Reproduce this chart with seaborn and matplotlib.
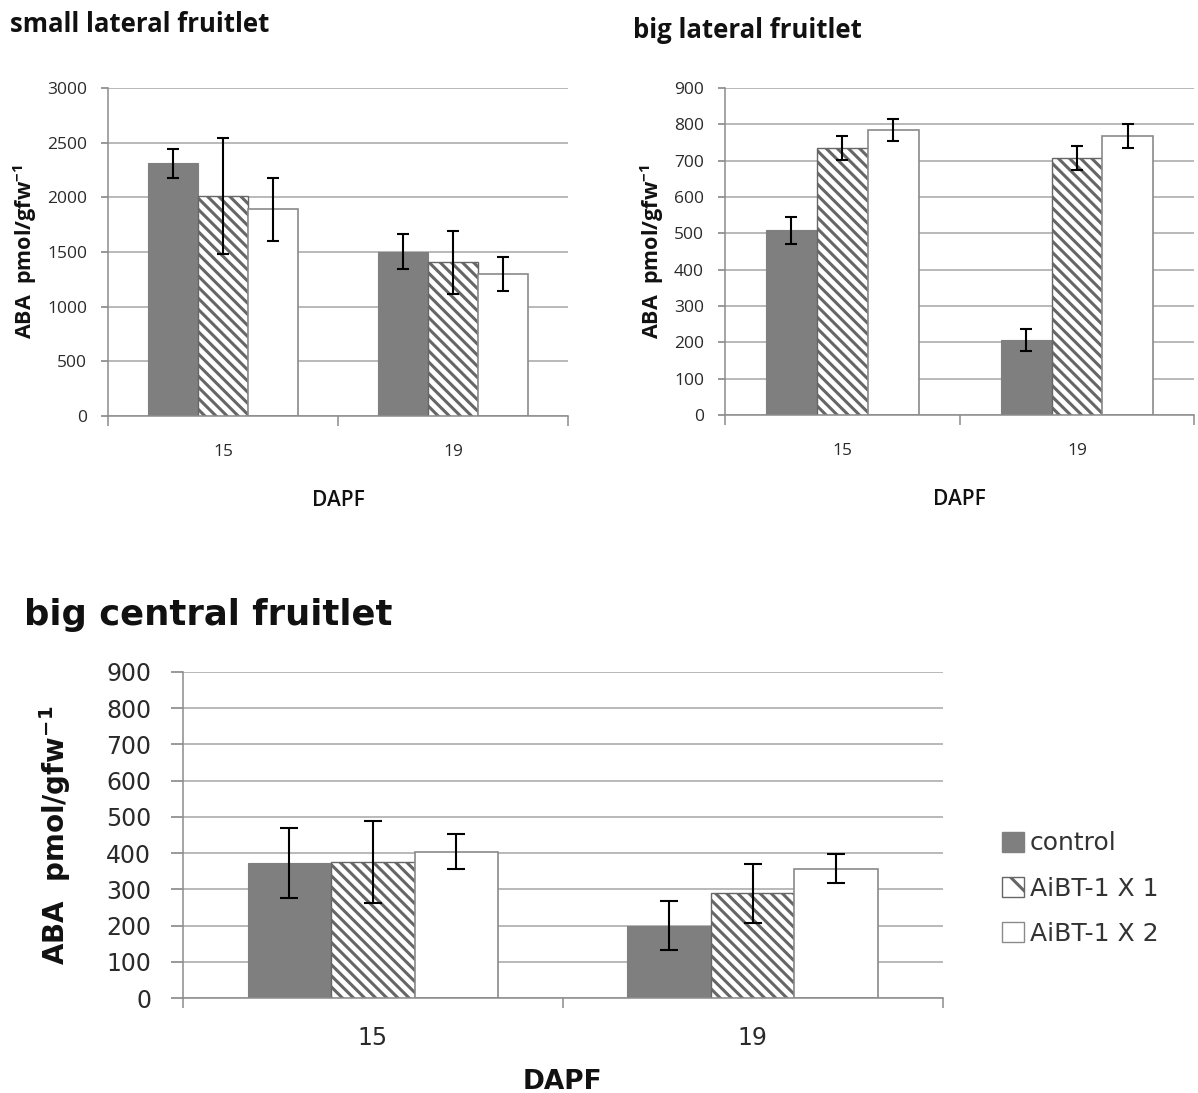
import matplotlib
matplotlib.use("Agg")
import matplotlib.pyplot as plt
import matplotlib.patches as mpatches
import numpy as np
import pandas as pd
import seaborn as sns

# ABA content (pmol/gfw-1) at 15 and 19 days after full bloom
days = ["15", "19"]
treatments = ["control", "AiBT-1 X 1", "AiBT-1 X 2"]

small_lateral_mean = {"control": [2310, 1500], "AiBT-1 X 1": [2015, 1405], "AiBT-1 X 2": [1890, 1300]}
small_lateral_err = {"control": [130, 160], "AiBT-1 X 1": [530, 290], "AiBT-1 X 2": [290, 155]}

big_lateral_mean = {"control": [508, 206], "AiBT-1 X 1": [735, 708], "AiBT-1 X 2": [785, 768]}
big_lateral_err = {"control": [36, 30], "AiBT-1 X 1": [33, 33], "AiBT-1 X 2": [31, 33]}

big_central_mean = {"control": [372, 200], "AiBT-1 X 1": [376, 289], "AiBT-1 X 2": [404, 357]}
big_central_err = {"control": [97, 68], "AiBT-1 X 1": [113, 82], "AiBT-1 X 2": [49, 40]}

sns.set_theme(style="white")
plt.rcParams["hatch.linewidth"] = 2.2

BAR_GRAY = "#7f7f7f"
EDGE_GRAY = "#8a8a8a"
HATCH_GRAY = "#666666"
GRID_GRAY = "#a6a6a6"
TOP_FONT = ["Open Sans", "DejaVu Sans"]
BOTTOM_FONT = ["DejaVu Sans"]


def long_table(means):
    rows = []
    for t in treatments:
        for d, v in zip(days, means[t]):
            rows.append({"DAPF": d, "treatment": t, "ABA": v})
    return pd.DataFrame(rows)


def draw_panel(ax, means, errs, ymax, ystep, font, tick_size, xlab_size, xlab_weight,
               ylab_font, ylab_size, ylab_pad, width, capsize, hatch_density,
               ytick_len, ytick_pad, xtick_pad, xlab_pad):
    df = long_table(means)
    sns.barplot(data=df, x="DAPF", y="ABA", hue="treatment", order=days,
                hue_order=treatments, ax=ax, width=width, errorbar=None,
                legend=False, saturation=1,
                palette={"control": BAR_GRAY, "AiBT-1 X 1": "white", "AiBT-1 X 2": "white"})
    for t, cont in zip(treatments, ax.containers):
        for bar, e in zip(cont, errs[t]):
            if t == "control":
                bar.set_edgecolor(BAR_GRAY)
                bar.set_linewidth(0.8)
            elif t == "AiBT-1 X 1":
                bar.set_facecolor("white")
                bar.set_hatch("\\" * hatch_density)
                bar.set_edgecolor(HATCH_GRAY)
                bar.set_linewidth(1.0)
            else:
                bar.set_facecolor("white")
                bar.set_edgecolor(EDGE_GRAY)
                bar.set_linewidth(1.2)
            xc = bar.get_x() + bar.get_width() / 2
            ax.errorbar(xc, bar.get_height(), yerr=e, fmt="none", ecolor="black",
                        elinewidth=1.5, capsize=capsize, capthick=1.5, zorder=5)
    ax.set_ylim(0, ymax)
    ax.set_xlim(-0.5, 1.5)
    ax.set_yticks(np.arange(0, ymax + 1, ystep))
    ax.yaxis.grid(True, color=GRID_GRAY, linewidth=1.1)
    ax.set_axisbelow(True)
    for s in ["top", "right"]:
        ax.spines[s].set_visible(False)
    for s in ["left", "bottom"]:
        ax.spines[s].set_color("#8c8c8c")
        ax.spines[s].set_linewidth(1.1)
    ax.tick_params(axis="y", which="major", left=True, length=ytick_len, color="#8c8c8c",
                   labelsize=tick_size, labelcolor="#2a2a2a", pad=ytick_pad)
    ax.set_xticks([0, 1])
    ax.set_xticklabels(days)
    ax.tick_params(axis="x", which="major", length=0, labelsize=tick_size,
                   labelcolor="#2a2a2a", pad=xtick_pad)
    ax.set_xticks([-0.5, 0.5, 1.5], minor=True)
    ax.tick_params(axis="x", which="minor", bottom=True, length=7, color="#8c8c8c", width=1.1)
    for lab in ax.get_xticklabels() + ax.get_yticklabels():
        lab.set_family(font)
    ax.set_xlabel("DAPF", fontsize=xlab_size, family=font, fontweight=xlab_weight,
                  color="#111111", labelpad=xlab_pad)
    ax.set_ylabel("ABA  pmol/gfw$^{\\mathregular{-1}}$", fontsize=ylab_size,
                  family=ylab_font, fontweight="bold", color="#111111", labelpad=ylab_pad)


fig = plt.figure(figsize=(11.98, 10.93), dpi=100)

ax1 = fig.add_axes([0.0902, 0.6194, 0.384, 0.3001])
draw_panel(ax1, small_lateral_mean, small_lateral_err, 3000, 500, TOP_FONT, 12.5, 15, "semibold",
           TOP_FONT, 15.5, 6, 0.65, 4.5, 3, 5, 10, 20, 22)
fig.text(0.008, 0.978, "small lateral fruitlet", fontsize=18.5, fontweight="bold",
         family=TOP_FONT, color="#111111", va="center")

ax2 = fig.add_axes([0.605, 0.6203, 0.392, 0.2992])
draw_panel(ax2, big_lateral_mean, big_lateral_err, 900, 100, TOP_FONT, 12.5, 15, "semibold",
           TOP_FONT, 15.5, 6, 0.65, 4.5, 3, 5, 10, 20, 22)
fig.text(0.528, 0.972, "big lateral fruitlet", fontsize=18.5, fontweight="bold",
         family=TOP_FONT, color="#111111", va="center")

ax3 = fig.add_axes([0.1528, 0.0869, 0.634, 0.2983])
draw_panel(ax3, big_central_mean, big_central_err, 900, 100, BOTTOM_FONT, 17, 19, "bold",
           BOTTOM_FONT, 20, 24, 0.66, 6.5, 3, 9, 14, 20, 14)
fig.text(0.02, 0.437, "big central fruitlet", fontsize=25.5, fontweight="bold",
         family=BOTTOM_FONT, color="#111111", va="center")

handles = [
    mpatches.Patch(facecolor=BAR_GRAY, edgecolor=BAR_GRAY, label="control"),
    mpatches.Patch(facecolor="white", edgecolor=HATCH_GRAY, hatch="\\", label="AiBT-1 X 1"),
    mpatches.Patch(facecolor="white", edgecolor=EDGE_GRAY, label="AiBT-1 X 2"),
]
leg = fig.legend(handles=handles, loc="center left", bbox_to_anchor=(0.818, 0.187),
                 frameon=False, handlelength=0.85, handleheight=0.85,
                 handletextpad=0.25, labelspacing=0.85,
                 prop={"family": BOTTOM_FONT, "size": 18})
for txt in leg.get_texts():
    txt.set_color("#333333")

fig.savefig("out.png", dpi=100, facecolor="white")
